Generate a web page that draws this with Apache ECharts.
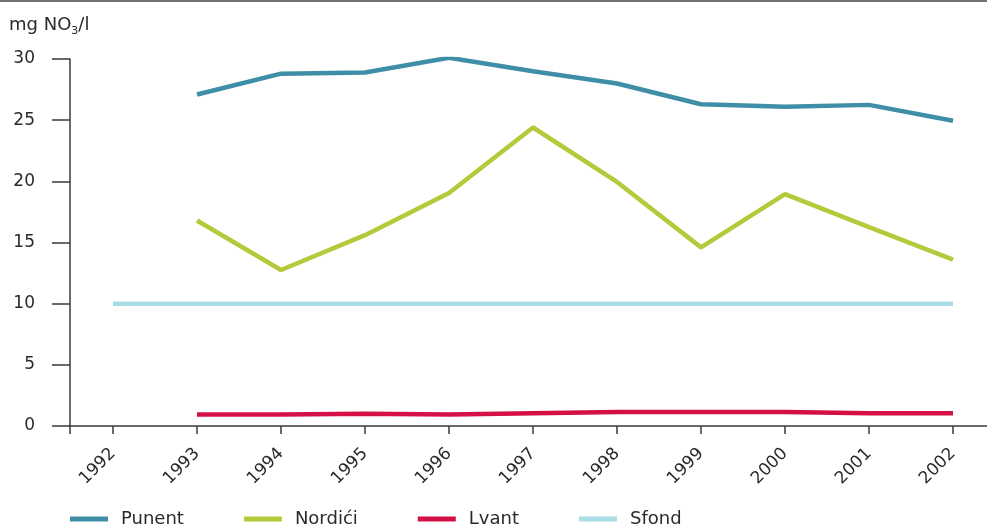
<!DOCTYPE html>
<html><head><meta charset="utf-8">
<script src="https://cdn.jsdelivr.net/npm/echarts@6/dist/echarts.min.js"></script>
<style>html,body{margin:0;padding:0;background:#fff}#c{width:987px;height:526px}</style>
</head><body><div id="c"></div>
<script>
var years = [1992,1993,1994,1995,1996,1997,1998,1999,2000,2001,2002];
var punent = [null,27.1,28.8,28.9,30.1,29.0,28.0,26.3,26.1,26.25,24.95];
var nordici = [null,16.8,12.75,15.6,19.05,24.4,19.95,14.6,18.95,16.25,13.6];
var lvant = [null,0.95,0.95,1.0,0.95,1.05,1.15,1.15,1.15,1.05,1.05];
var sfond = [10,10,10,10,10,10,10,10,10,10,10];
var yTicks = [0,5,10,15,20,25,30];
var FONT = 'DejaVu Sans';
var TXT = '#2a2a2a';
function pairs(v){ return years.map(function(y,i){ return [y, v[i]]; }).filter(function(p){return p[1]!==null;}); }
var xMin = 1992 - 43/84, xMax = 1992 + 874/84;
var chart = echarts.init(document.getElementById('c'));
function ser(name, vals, color){
  return {name:name, type:'line', data:pairs(vals), symbol:'none', lineStyle:{color:color,width:4.5}, itemStyle:{color:color}, animation:false};
}
chart.setOption({
  animation:false,
  title:{text:'mg NO{s|3}/l', left:4, top:9, textStyle:{fontFamily:FONT,fontSize:18,fontWeight:'normal',color:TXT,
    rich:{s:{fontFamily:FONT,fontSize:11,color:TXT,verticalAlign:'bottom',padding:[12,0,0,0]}}}},
  graphic:[{type:'line', shape:{x1:0,y1:1,x2:987,y2:1}, style:{stroke:'#444',lineWidth:1.5}}],
  grid:{left:70,right:0,top:59,bottom:100},
  legend:{top:505, left:65, icon:'rect', itemWidth:38, itemHeight:5, itemGap:60,
    textStyle:{fontFamily:FONT,fontSize:18,color:TXT,padding:[0,0,0,8]},
    data:['Punent','Nordići','Lvant','Sfond']},
  xAxis:{type:'value', min:xMin, max:xMax, splitLine:{show:false},
    axisLine:{lineStyle:{color:'#3a3a3a',width:1.5}},
    axisTick:{length:8, lineStyle:{color:'#3a3a3a',width:1.5}, customValues:[xMin].concat(years)},
    axisLabel:{customValues:years, rotate:45, margin:25, fontFamily:FONT, fontSize:17, color:TXT, formatter:function(v){return String(Math.round(v));}}},
  yAxis:{type:'value', min:0, max:30, interval:5, splitLine:{show:false},
    axisLine:{show:true, lineStyle:{color:'#3a3a3a',width:1.5}},
    axisTick:{show:true, length:18, lineStyle:{color:'#3a3a3a',width:1.5}, customValues:yTicks},
    axisLabel:{margin:35, fontFamily:FONT, fontSize:17, color:TXT, customValues:yTicks}},
  series:[ser('Punent',punent,'#3f8ea8'), ser('Nordići',nordici,'#b5c93a'), ser('Lvant',lvant,'#d41046'), ser('Sfond',sfond,'#a9dde6')]
});
</script></body></html>
